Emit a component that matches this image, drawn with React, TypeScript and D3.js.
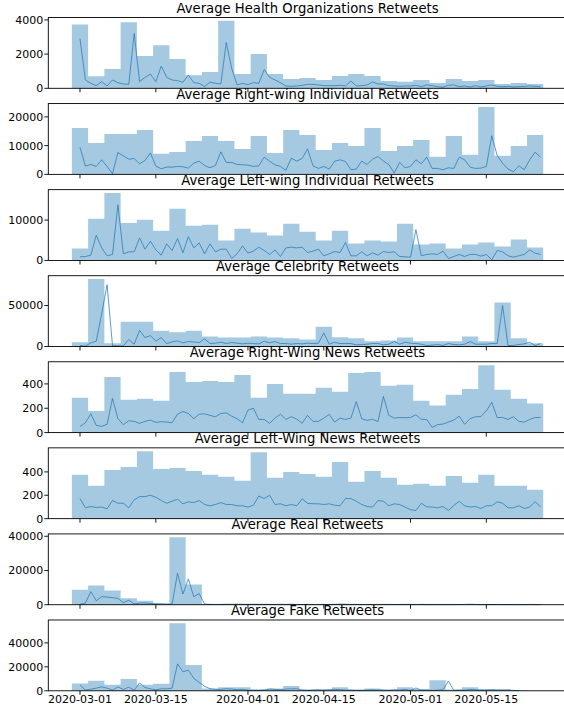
import React from 'react';
import * as d3 from 'd3';

const DAY = 864e5;
const startDate = new Date(Date.UTC(2020, 2, 1));

const titles = [
  'Average Health Organizations Retweets',
  'Average Right-wing Individual Retweets',
  'Average Left-wing Individual Retweets',
  'Average Celebrity Retweets',
  'Average Right-Wing News Retweets',
  'Average Left-Wing News Retweets',
  'Average Real Retweets',
  'Average Fake Retweets',
];

const xTickLabels = ['2020-03-01', '2020-03-15', '2020-04-01', '2020-04-15', '2020-05-01', '2020-05-15'];

const yTickValues = [
  [0, 2000, 4000],
  [0, 10000, 20000],
  [0, 10000],
  [0, 50000],
  [0, 200, 400],
  [0, 200, 400],
  [0, 20000, 40000],
  [0, 20000, 40000],
];

// 3-day bin averages (bars)
const healthBars = [3730, 700, 1126, 3864, 1883, 2524, 1709, 757, 951, 3943, 835, 2000, 835, 544, 602, 485, 718, 835, 718, 427, 388, 485, 311, 544, 427, 485, 252, 311, 252];
const rightIndBars = [16090, 10920, 14020, 14020, 15400, 7130, 7820, 11600, 13330, 11600, 8850, 13330, 7470, 15400, 13680, 8500, 10920, 9890, 16090, 8160, 9890, 11950, 6090, 13330, 6780, 23450, 6440, 9890, 13680];
const leftIndBars = [2950, 10330, 16700, 9260, 10080, 7380, 12790, 8610, 8850, 4920, 7870, 6890, 6150, 9100, 7130, 4920, 7380, 4180, 4920, 4670, 9100, 3930, 4180, 2950, 3930, 4430, 3440, 5160, 3200];
const celebBars = [5240, 82260, 4030, 30240, 30240, 19350, 17340, 19350, 12100, 10890, 10890, 12100, 10890, 10080, 8470, 24190, 11290, 10080, 6450, 7260, 10890, 6450, 6450, 6450, 12100, 6450, 53630, 10080, 4030];
const rwNewsBars = [286, 178, 457, 270, 278, 262, 497, 416, 424, 416, 473, 286, 400, 319, 319, 368, 335, 489, 497, 384, 392, 262, 222, 311, 359, 554, 351, 278, 238];
const lwNewsBars = [375, 282, 417, 442, 577, 425, 434, 408, 375, 358, 324, 569, 349, 400, 383, 358, 485, 315, 408, 349, 290, 299, 282, 366, 307, 375, 282, 282, 248];
const realBars = [8820, 11180, 8240, 3730, 2350, 590, 39400, 11760, 400, 150, 600, 600, 300, 200, 250, 200, 600, 150, 150, 120, 250, 150, 150, 120, 150, 300, 150, 100, 100];
const fakeBars = [6070, 8280, 4970, 9930, 4970, 5790, 56280, 21520, 2000, 3000, 3000, 1300, 2000, 4000, 1000, 1000, 3000, 1000, 2000, 1000, 3000, 1500, 8700, 1000, 3000, 1300, 1200, 500, 0];

// daily averages (lines)
const healthLine = [2900, 485, 290, 155, 390, 136, 485, 330, 252, 233, 3200, 390, 640, 835, 390, 1300, 640, 485, 450, 350, 777, 330, 290, 100, 370, 290, 252, 2680, 1165, 195, 290, 213, 330, 290, 1100, 640, 485, 330, 136, 116, 136, 175, 233, 233, 195, 155, 155, 155, 175, 136, 427, 136, 155, 195, 370, 252, 252, 155, 136, 116, 136, 136, 175, 97, 195, 155, 97, 58, 175, 195, 97, 136, 78, 155, 78, 136, 195, 116, 97, 116, 78, 97, 116, 136, 116, 97];
const rightIndLine = [9430, 2870, 3450, 2760, 5060, 2760, 230, 7590, 6440, 5290, 5520, 3680, 4830, 7470, 2870, 1950, 2530, 2530, 2760, 2640, 2180, 3910, 4600, 3100, 2300, 3100, 7820, 4140, 4140, 3450, 3330, 3220, 2760, 2990, 5980, 4600, 3330, 2760, 1380, 5630, 4600, 5520, 8850, 2990, 2070, 2760, 1840, 4600, 5060, 4480, 1610, 1840, 4600, 3450, 5290, 6210, 4600, 3450, 460, 4140, 2300, 2760, 5060, 3680, 5980, 2070, 2070, 1610, 2300, 2070, 5980, 5060, 2530, 2070, 2180, 2760, 13450, 6550, 3910, 1840, 920, 2990, 1610, 5060, 7700, 5980];
const leftIndLine = [900, 980, 1310, 6230, 3110, 1150, 1480, 13770, 1640, 2130, 2130, 5570, 2790, 4750, 2620, 1310, 4100, 2460, 5410, 1890, 5900, 3110, 4340, 1640, 4100, 2130, 2790, 2790, 490, 1640, 3610, 1800, 2300, 3280, 2460, 1480, 2620, 980, 3110, 3280, 3110, 3280, 1970, 2300, 2790, 1150, 1640, 2210, 1970, 4430, 1150, 1150, 2130, 1150, 1890, 1310, 2210, 1970, 2130, 980, 900, 820, 7620, 1150, 1480, 1640, 1480, 2300, 490, 980, 1480, 980, 1480, 1480, 1070, 1480, 160, 2460, 2130, 1150, 820, 1150, 1480, 2620, 1800, 1480];
const celebLine = [1210, 400, 4440, 6450, 39900, 75400, 800, 800, 800, 8470, 2820, 19760, 10890, 13310, 6450, 10890, 3630, 5650, 6860, 4440, 6050, 5650, 4840, 9270, 3630, 4030, 5240, 3630, 4840, 4030, 3230, 4030, 3630, 3230, 6450, 4440, 6050, 3630, 3630, 2820, 3630, 3230, 4030, 3630, 4030, 16530, 2820, 5240, 3630, 3630, 3630, 2020, 2420, 2820, 3630, 3630, 2020, 2820, 6050, 2820, 5240, 4030, 3630, 2820, 1210, 1610, 2420, 1210, 3630, 2420, 2020, 2820, 6050, 2820, 2820, 2820, 3630, 3630, 50000, 1210, 1210, 2420, 3230, 5240, 1210, 3630];
const rwNewsLine = [49, 81, 154, 59, 51, 68, 281, 114, 65, 97, 92, 76, 92, 103, 84, 89, 86, 81, 151, 173, 157, 114, 151, 154, 141, 130, 157, 162, 135, 114, 81, 184, 200, 108, 108, 76, 119, 151, 108, 130, 111, 76, 141, 92, 92, 119, 149, 86, 119, 108, 119, 254, 114, 100, 110, 90, 297, 141, 119, 124, 122, 124, 146, 108, 108, 43, 65, 70, 86, 103, 135, 68, 114, 130, 132, 178, 249, 124, 124, 108, 130, 92, 86, 108, 124, 124];
const lwNewsLine = [172, 93, 104, 96, 99, 85, 155, 132, 132, 93, 161, 189, 189, 200, 183, 155, 132, 149, 166, 127, 144, 138, 155, 121, 110, 121, 138, 121, 121, 110, 110, 99, 115, 194, 172, 200, 121, 127, 110, 121, 110, 169, 132, 127, 127, 121, 127, 115, 110, 172, 172, 149, 121, 104, 99, 155, 149, 110, 127, 121, 99, 76, 70, 132, 101, 99, 93, 104, 70, 113, 149, 110, 99, 104, 87, 110, 110, 144, 132, 93, 93, 110, 87, 99, 146, 99];
const realLine = [200, 980, 7650, 2350, 4700, 4500, 4100, 3700, 1200, 2600, 500, 900, 1000, 700, 600, 590, 390, 390, 18430, 6270, 15100, 4700, 6470, 390, 200, 150, 200, 300, 250, 300, 200, 150, 200, 150, 150, 200, 150, 250, 200, 300, 150, 150, 200, 100, 150, 200, 150, 150, 300, 200, 150, 200, 100, 150, 100, 150, 200, 150, 100, 150, 200, 150, 100, 200, 150, 100, 150, 150, 100, 150, 100, 150, 300, 150, 100, 150, 100, 150, 100, 100, 150, 100, 100, 150, 100, 100];
const fakeLine = [4970, 550, 1370, 2190, 3290, 2190, 550, 3290, 1100, 3000, 550, 6580, 2740, 1640, 820, 1640, 1640, 2190, 22460, 15900, 17260, 10400, 7000, 3770, 1740, 1160, 1160, 1740, 1450, 870, 1160, 580, 300, 300, 580, 1450, 1160, 870, 1450, 1600, 1740, 580, 300, 580, 870, 580, 870, 1160, 870, 580, 580, 300, 300, 580, 870, 580, 580, 300, 870, 580, 1160, 300, 2320, 580, 580, 300, 580, 870, 8100, 300, 580, 580, 1160, 870, 580, 580, 870, 580, 580, 580, 300, 100];

const barSeries = [healthBars, rightIndBars, leftIndBars, celebBars, rwNewsBars, lwNewsBars, realBars, fakeBars];
const lineSeries = [healthLine, rightIndLine, leftIndLine, celebLine, rwNewsLine, lwNewsLine, realLine, fakeLine];

const W = 564;
const H = 713;
const AX_LEFT = 48.3;
const AX_RIGHT = 566.8;
const TOP0 = 17.5;
const STEP = 86.07;
const PH = 70.8;
const FONT = 'DejaVu Sans, sans-serif';
const BLUE = '#1f77b4';

const dayDate = (d: number) => new Date(startDate.getTime() + d * DAY);

const x = d3.scaleUtc().domain([dayDate(-5.85), dayDate(89.85)]).range([AX_LEFT, AX_RIGHT]);
const parse = d3.utcParse('%Y-%m-%d');
const xTickDates = xTickLabels.map((s) => parse(s) as Date);

function Panel({ i }: { i: number }) {
  const top = TOP0 + i * STEP;
  const bottom = top + PH;
  const bars = barSeries[i];
  const line = lineSeries[i];
  const maxV = Math.max(d3.max(bars) || 0, d3.max(line) || 0);
  const y = d3.scaleLinear().domain([0, maxV * 1.05]).range([bottom, top]);

  let barPath = '';
  bars.forEach((v, k) => {
    const x0 = x(dayDate(3 * k - 1.5));
    const x1 = x(dayDate(3 * k + 1.5));
    const yt = y(v);
    barPath += `M${x0},${bottom}V${yt}H${x1}V${bottom}Z`;
  });

  const lineGen = d3
    .line<number>()
    .x((_, d) => x(dayDate(d)))
    .y((v) => y(v));

  return (
    <g>
      <path d={barPath} fill={BLUE} fillOpacity={0.4} />
      <path d={lineGen(line) || ''} fill="none" stroke={BLUE} strokeOpacity={0.72} strokeWidth={1} strokeLinejoin="round" />
      <rect x={AX_LEFT} y={top} width={AX_RIGHT - AX_LEFT} height={PH} fill="none" stroke="#000" strokeWidth={0.9} />
      {xTickDates.map((dt, k) => (
        <line key={k} x1={x(dt)} x2={x(dt)} y1={bottom} y2={bottom + 4} stroke="#000" strokeWidth={0.9} />
      ))}
      {yTickValues[i].map((v) => (
        <g key={v}>
          <line x1={AX_LEFT - 4} x2={AX_LEFT} y1={y(v)} y2={y(v)} stroke="#000" strokeWidth={0.9} />
          <text x={AX_LEFT - 5} y={y(v)} dy="0.36em" textAnchor="end" fontSize={11} fontFamily={FONT} fill="#000">
            {v}
          </text>
        </g>
      ))}
      <text x={(AX_LEFT + AX_RIGHT) / 2} y={top - 4.6} textAnchor="middle" fontSize={13.2} fontFamily={FONT} fill="#000">
        {titles[i]}
      </text>
      {i === titles.length - 1 &&
        xTickDates.map((dt, k) => (
          <text key={k} x={x(dt)} y={703.3} textAnchor="middle" fontSize={11} fontFamily={FONT} fill="#000">
            {xTickLabels[k]}
          </text>
        ))}
    </g>
  );
}

export default function App() {
  return (
    <svg width={W} height={H} style={{ position: 'absolute', left: 0, top: 0, background: '#fff' }}>
      <rect x={0} y={0} width={W} height={H} fill="#fff" />
      {titles.map((_, i) => (
        <Panel key={i} i={i} />
      ))}
    </svg>
  );
}
